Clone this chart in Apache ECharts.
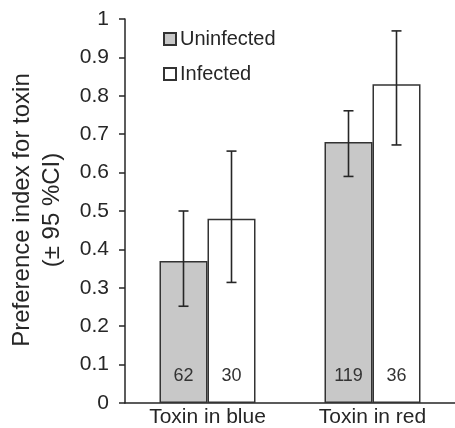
<!DOCTYPE html>
<html>
<head>
<meta charset="utf-8">
<script src="https://cdn.jsdelivr.net/npm/echarts@6/dist/echarts.min.js"></script>
<style>
  html, body { margin: 0; padding: 0; background: #fff; }
  #chart { width: 455px; height: 428px; }
</style>
</head>
<body>
<div id="chart"></div>
<script>
// data
const categories = ['Toxin in blue', 'Toxin in red'];
const uninfected = [0.37, 0.68];
const infected = [0.48, 0.83];
const uninfectedCI = [[0.252, 0.50], [0.59, 0.761]];
const infectedCI = [[0.314, 0.656], [0.672, 0.969]];
const uninfectedN = [62, 119];
const infectedN = [30, 36];
const yTicks = [0, 0.1, 0.2, 0.3, 0.4, 0.5, 0.6, 0.7, 0.8, 0.9, 1];

const FONT = 'Liberation Sans, Arial, sans-serif';
const INK = '#262626';
const BAR_W = 48;

const chart = echarts.init(document.getElementById('chart'), null, { renderer: 'canvas' });

// error bar: vertical whisker with caps, shifted onto its bar
function errorBar(offset) {
    return function (params, api) {
        const x = api.value(0);
        const lo = api.coord([x, api.value(1)]);
        const hi = api.coord([x, api.value(2)]);
        const cx = lo[0] + offset;
        const cap = 5;
        const style = { stroke: INK, lineWidth: 1.6 };
        return {
            type: 'group',
            children: [
                { type: 'line', shape: { x1: cx, y1: lo[1], x2: cx, y2: hi[1] }, style },
                { type: 'line', shape: { x1: cx - cap, y1: lo[1], x2: cx + cap, y2: lo[1] }, style },
                { type: 'line', shape: { x1: cx - cap, y1: hi[1], x2: cx + cap, y2: hi[1] }, style }
            ]
        };
    };
}

function countLabel(counts) {
    return {
        show: true,
        position: 'insideBottom',
        distance: 18,
        fontFamily: FONT,
        fontSize: 18,
        color: '#333',
        formatter: p => String(counts[p.dataIndex])
    };
}

const option = {
    animation: false,
    textStyle: { fontFamily: FONT },
    grid: { left: 125, right: -6, top: 19, bottom: 25, containLabel: false },
    legend: {
        orient: 'vertical',
        left: 158,
        top: 24,
        itemWidth: 12,
        itemHeight: 12,
        itemGap: 15,
        icon: 'rect',
        textStyle: { fontFamily: FONT, fontSize: 20, color: INK, padding: [0, 0, 0, -1] },
        data: ['Uninfected', 'Infected']
    },
    xAxis: {
        type: 'category',
        data: categories,
        axisLine: { lineStyle: { color: INK, width: 1.5 } },
        axisTick: { show: false },
        axisLabel: { fontFamily: FONT, fontSize: 21, color: INK, margin: 4 }
    },
    yAxis: {
        type: 'value',
        min: 0,
        max: 1,
        interval: 0.1,
        splitLine: { show: false },
        axisLine: { show: true, lineStyle: { color: INK, width: 1.5 } },
        axisTick: { show: true, length: 6, lineStyle: { color: INK, width: 1.5 } },
        axisLabel: {
            fontFamily: FONT, fontSize: 21, color: INK, margin: 16,
            formatter: v => String(yTicks.find(t => Math.abs(t - v) < 1e-9) ?? v)
        }
    },
    graphic: [
        {
            type: 'text', x: 22, y: 210, rotation: Math.PI / 2,
            style: { text: 'Preference index for toxin', font: '24px ' + FONT, fill: INK, textAlign: 'center', textVerticalAlign: 'middle' }
        },
        {
            type: 'text', x: 52, y: 210, rotation: Math.PI / 2,
            style: { text: '(± 95 %CI)', font: '24px ' + FONT, fill: INK, textAlign: 'center', textVerticalAlign: 'middle' }
        }
    ],
    series: [
        {
            name: 'Uninfected',
            type: 'bar',
            data: uninfected,
            barWidth: BAR_W,
            barGap: '0%',
            itemStyle: { color: '#c8c8c8', borderColor: '#333', borderWidth: 1.5 },
            label: countLabel(uninfectedN)
        },
        {
            name: 'Infected',
            type: 'bar',
            data: infected,
            barWidth: BAR_W,
            barGap: '0%',
            itemStyle: { color: '#ffffff', borderColor: '#333', borderWidth: 1.5 },
            label: countLabel(infectedN)
        },
        {
            type: 'custom',
            renderItem: errorBar(-BAR_W / 2),
            data: uninfectedCI.map((ci, i) => [i, ci[0], ci[1]]),
            z: 10
        },
        {
            type: 'custom',
            renderItem: errorBar(BAR_W / 2),
            data: infectedCI.map((ci, i) => [i, ci[0], ci[1]]),
            z: 10
        }
    ]
};

chart.setOption(option);
</script>
</body>
</html>
